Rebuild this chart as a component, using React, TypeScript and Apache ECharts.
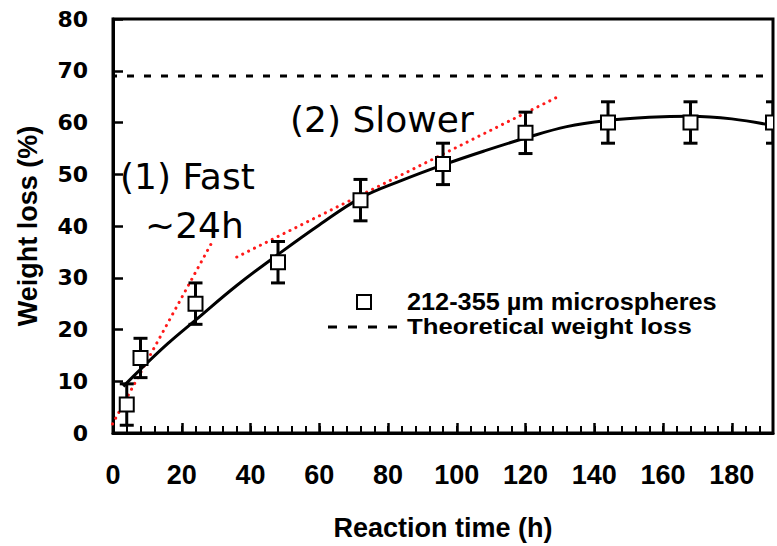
import React, { useEffect, useRef } from "react";
import * as echarts from "echarts";

// Measured points (reaction time in h, weight loss %, error bar half-height)
const timeH = [4, 8, 24, 48, 72, 96, 120, 144, 168, 192];
const weightLoss = [5.5, 14.5, 25, 33, 45, 52, 58, 60, 60, 60];
const errorPct = [4, 3.8, 4, 4, 4, 4, 4, 4, 4, 4];

// Fitted curve
const fitTime = [3, 8, 16, 24, 36, 48, 60, 72, 84, 96, 108, 120, 132, 144, 156, 168, 180, 192];
const fitLoss = [9.0, 12.3, 17.3, 21.8, 28.5, 34.5, 40.2, 45.4, 48.8, 51.8, 54.5, 57, 59.2, 60.4, 61, 61.2, 60.7, 59.4];

// Theoretical weight loss
const theoreticalX = [0, 192];
const theoreticalY = [69, 69];

// Trend lines
const fastTrendX = [-2, 28.5];
const fastTrendY = [-0.5, 36.5];
const slowTrendX = [36, 129.5];
const slowTrendY = [34, 65];

const legendLabels = ["212-355 \u00b5m microspheres", "Theoretical weight loss"];
const annotations = ["(1) Fast", "~24h", "(2) Slower"];

const zip = (a: number[], b: number[]) => a.map((v, i) => [v, b[i]]);

export default function App() {
  const ref = useRef<HTMLDivElement>(null);
  useEffect(() => {
    if (!ref.current) return;
    const chart = echarts.init(ref.current, undefined, { renderer: "svg" });
    const annFont = { fontFamily: "DejaVu Sans", fontSize: 36, fill: "#000" };
    const legFont = { fontFamily: "Liberation Sans", fontSize: 23, fontWeight: "bold", fill: "#000" };
    chart.setOption({
      animation: false,
      backgroundColor: "#fff",
      grid: {
        left: 113,
        right: 4,
        top: 19,
        bottom: 109,
        show: true,
        borderColor: "#000",
        borderWidth: 3,
        backgroundColor: "transparent",
      },
      xAxis: [
        {
          type: "value",
          min: 0,
          max: 192,
          interval: 20,
          position: "bottom",
          name: "Reaction time (h)",
          nameLocation: "middle",
          nameGap: 81,
          nameTextStyle: { fontFamily: "Liberation Sans", fontSize: 27, fontWeight: "bold", color: "#000" },
          axisLine: { lineStyle: { color: "#000", width: 3 } },
          axisTick: { inside: true, length: 10, lineStyle: { color: "#000", width: 2.5 } },
          axisLabel: {
            margin: 28,
            showMaxLabel: false,
            fontFamily: "Liberation Sans",
            fontSize: 27,
            fontWeight: "bold",
            color: "#000",
          },
          splitLine: { show: false },
        },
        {
          type: "value",
          min: 0,
          max: 192,
          interval: 4,
          position: "bottom",
          axisLine: { show: false },
          axisTick: { inside: true, length: 7, lineStyle: { color: "#000", width: 2 } },
          axisLabel: { show: false },
          splitLine: { show: false },
        },
      ],
      yAxis: {
        type: "value",
        min: 0,
        max: 80,
        interval: 10,
        name: "Weight loss (%)",
        nameLocation: "middle",
        nameGap: 72,
        nameTextStyle: { fontFamily: "Liberation Sans", fontSize: 27, fontWeight: "bold", color: "#000" },
        axisLine: { show: true, lineStyle: { color: "#000", width: 3 } },
        axisTick: { show: true, inside: true, length: 10, lineStyle: { color: "#000", width: 2.5 } },
        axisLabel: { margin: 25, fontFamily: "DejaVu Sans", fontSize: 22, fontWeight: "bold", color: "#000" },
        splitLine: { show: false },
      },
      series: [
        {
          type: "line",
          name: "Theoretical weight loss",
          data: zip(theoreticalX, theoreticalY),
          symbol: "none",
          lineStyle: { color: "#000", width: 3, type: [7, 10], dashOffset: -14 },
          z: 2,
        },
        {
          type: "line",
          name: "fast",
          data: zip(fastTrendX, fastTrendY),
          symbol: "none",
          clip: false,
          lineStyle: { color: "#ff1a1a", width: 3, type: [0.1, 6.5], cap: "round" },
          z: 2,
        },
        {
          type: "line",
          name: "slow",
          data: zip(slowTrendX, slowTrendY),
          symbol: "none",
          clip: false,
          lineStyle: { color: "#ff1a1a", width: 3, type: [0.1, 6.5], cap: "round" },
          z: 2,
        },
        {
          type: "line",
          name: "fit",
          data: zip(fitTime, fitLoss),
          symbol: "none",
          smooth: 0.4,
          lineStyle: { color: "#000", width: 3 },
          z: 3,
        },
        {
          type: "custom",
          name: legendLabels[0],
          clip: true,
          z: 4,
          data: timeH.map((t, i) => [t, weightLoss[i], errorPct[i]]),
          encode: { x: 0, y: 1 },
          renderItem: (params: any, api: any) => {
            const x = api.value(0);
            const y = api.value(1);
            const e = api.value(2);
            const top = api.coord([x, y + e]);
            const bot = api.coord([x, y - e]);
            const c = api.coord([x, y]);
            const cap = 7;
            const s = 7;
            const st = { stroke: "#000", lineWidth: 3 };
            return {
              type: "group",
              children: [
                { type: "line", shape: { x1: top[0], y1: top[1], x2: bot[0], y2: bot[1] }, style: st },
                { type: "line", shape: { x1: top[0] - cap, y1: top[1], x2: top[0] + cap, y2: top[1] }, style: st },
                { type: "line", shape: { x1: bot[0] - cap, y1: bot[1], x2: bot[0] + cap, y2: bot[1] }, style: st },
                {
                  type: "rect",
                  shape: { x: c[0] - s, y: c[1] - s, width: 2 * s, height: 2 * s },
                  style: { fill: "#fff", stroke: "#000", lineWidth: 2 },
                },
              ],
            };
          },
        },
      ],
      graphic: [
        { type: "text", x: 120, y: 176, style: { ...annFont, text: annotations[0], verticalAlign: "middle" } },
        { type: "text", x: 145, y: 225, style: { ...annFont, text: annotations[1], verticalAlign: "middle" } },
        { type: "text", x: 290, y: 119, style: { ...annFont, text: annotations[2], verticalAlign: "middle" } },
        {
          type: "rect",
          shape: { x: 357, y: 295, width: 14, height: 14 },
          style: { fill: "#fff", stroke: "#000", lineWidth: 2 },
        },
        {
          type: "line",
          shape: { x1: 328, y1: 327, x2: 398, y2: 327 },
          style: { stroke: "#000", lineWidth: 3, lineDash: [9, 11] },
        },
        {
          type: "text",
          x: 407,
          y: 302,
          scaleX: 1.1,
          style: { ...legFont, text: legendLabels[0], verticalAlign: "middle" },
        },
        {
          type: "text",
          x: 407,
          y: 326,
          scaleX: 1.12,
          style: { ...legFont, text: legendLabels[1], verticalAlign: "middle" },
        },
      ],
    });
    return () => chart.dispose();
  }, []);
  return <div ref={ref} style={{ width: 777, height: 546, position: "absolute", left: 0, top: 0 }} />;
}
